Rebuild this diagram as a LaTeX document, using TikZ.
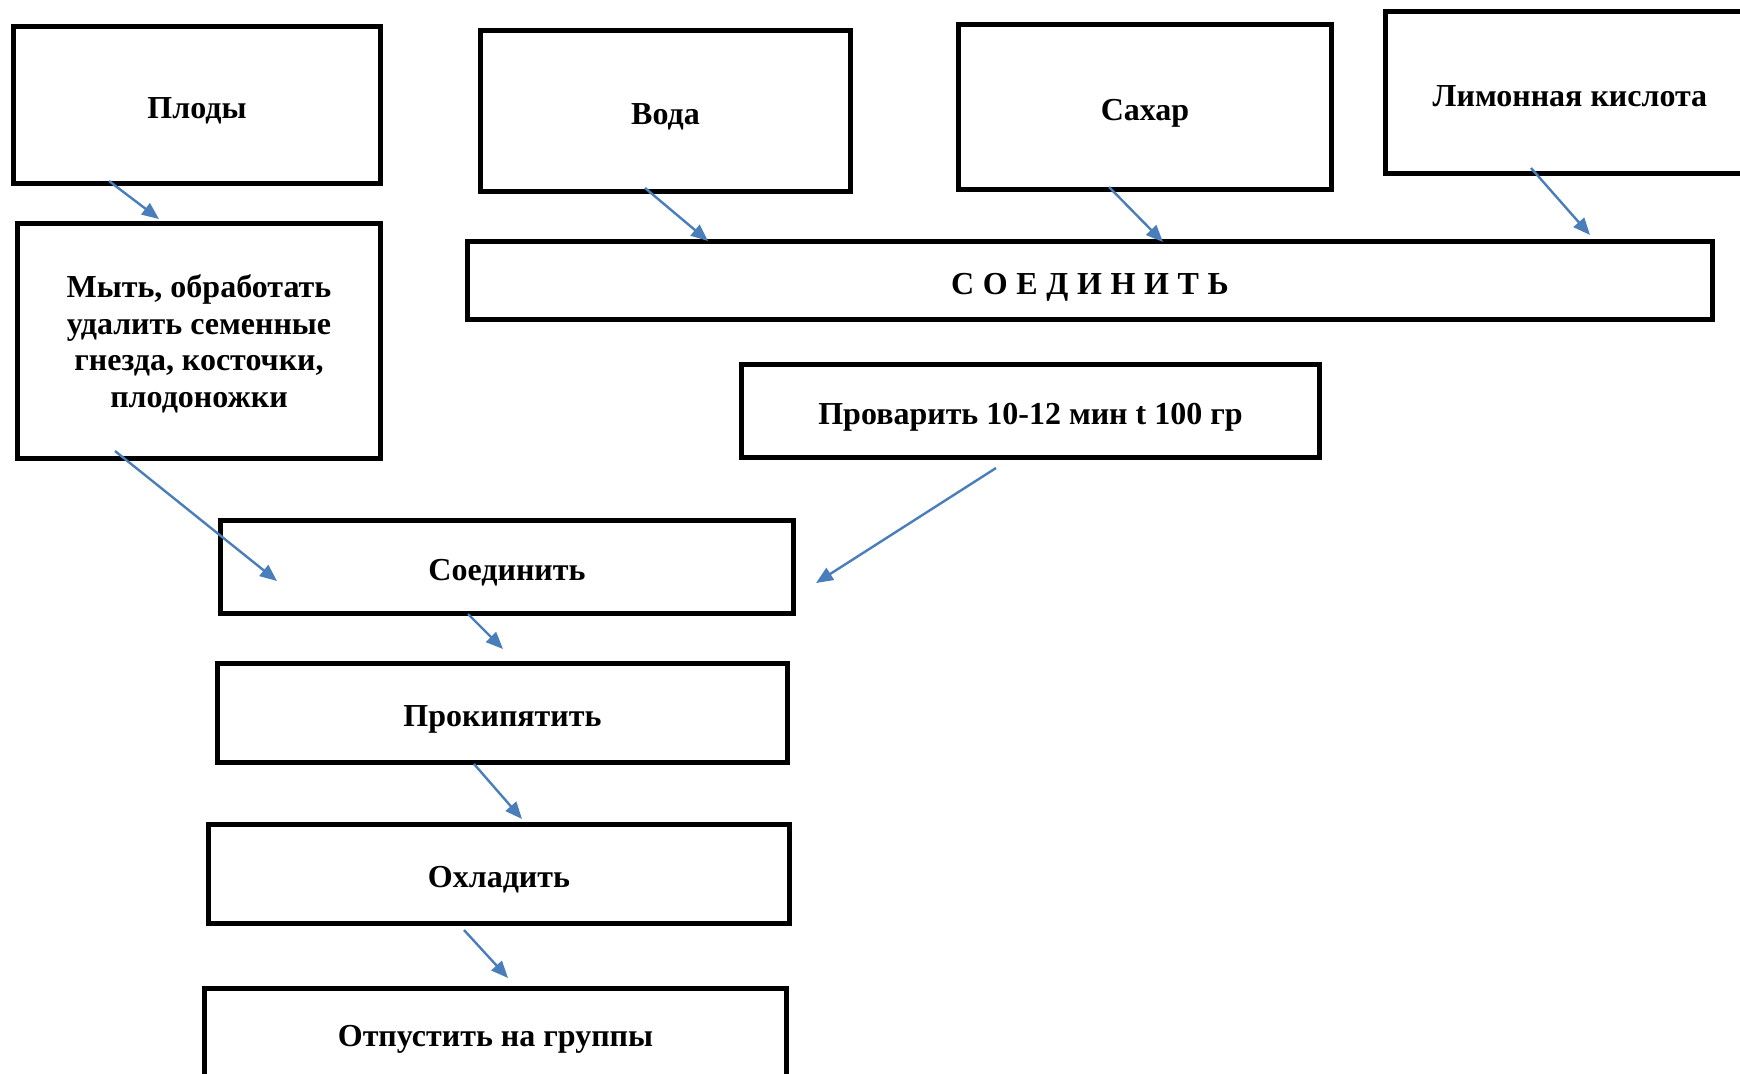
\documentclass[tikz,border=0pt]{standalone}
\usepackage{fontspec}
\setmainfont{Liberation Serif}
\usetikzlibrary{arrows.meta}
\definecolor{arrowblue}{HTML}{4A7EBB}
\begin{document}
\begin{tikzpicture}[x=0.5pt,y=-0.5pt,
  box/.style={draw=black,line width=2.5pt,fill=white,inner sep=0pt,align=center,
    font=\fontsize{16}{18.3}\selectfont\bfseries},
  oneline/.style={box,text height=13.6pt,text depth=0pt},
  flow/.style={draw=arrowblue,line width=1.2pt,-{Triangle[length=8.5pt,width=7pt]}}]
\useasboundingbox (0,0) rectangle (1740,1073);
\fill[white] (0,0) rectangle (1740,1073);
% boxes
\node[oneline,minimum width=183.5pt,minimum height=78.5pt] (plody) at (197,105) {Плоды};
\node[box,text depth=0pt,minimum width=181.5pt,minimum height=117.5pt] (myt) at (199,341)
  {Мыть, обработать\\удалить семенные\\гнезда, косточки,\\плодоножки};
\node[oneline,minimum width=185pt,minimum height=80.5pt] (voda) at (665.5,111) {Вода};
\node[oneline,minimum width=186.5pt,minimum height=82.5pt] (sahar) at (1145,107) {Сахар};
\node[oneline,minimum width=184.5pt,minimum height=81pt] (limon) at (1570,92.5) {Лимонная кислота};
\node[oneline,minimum width=622.5pt,minimum height=39pt] (soedA) at (1090,280.5)
  {С\hspace{0.27em}О\hspace{0.27em}Е\hspace{0.27em}Д\hspace{0.27em}И\hspace{0.27em}Н\hspace{0.27em}И\hspace{0.27em}Т\hspace{0.27em}Ь};
\node[oneline,minimum width=289pt,minimum height=46.5pt] (prov) at (1030.5,411) {Проварить 10-12 мин t 100 гр};
\node[oneline,minimum width=286.5pt,minimum height=46.5pt] (soedB) at (507,567) {Соединить};
\node[oneline,minimum width=285pt,minimum height=49.5pt] (prok) at (502.5,713) {Прокипятить};
\node[oneline,minimum width=290.5pt,minimum height=49.5pt] (ohl) at (499,874) {Охладить};
\node[oneline,minimum width=291pt,minimum height=44.5pt] (otp) at (495.5,1033) {Отпустить на группы};
% connector end points
\coordinate (p1) at (109,181);  \coordinate (q1) at (159,219);
\coordinate (p2) at (645,188);  \coordinate (q2) at (708,241);
\coordinate (p3) at (1109,187); \coordinate (q3) at (1163,242);
\coordinate (p4) at (1531,168); \coordinate (q4) at (1590,235);
\coordinate (p5) at (115,451);  \coordinate (q5) at (277,581);
\coordinate (p6) at (996,468);  \coordinate (q6) at (816,583);
\coordinate (p7) at (468,614);  \coordinate (q7) at (503,649);
\coordinate (p8) at (474,764);  \coordinate (q8) at (522,819);
\coordinate (p9) at (464,930);  \coordinate (q9) at (508,978);
\draw[flow] (p1) -- (q1);
\draw[flow] (p2) -- (q2);
\draw[flow] (p3) -- (q3);
\draw[flow] (p4) -- (q4);
\draw[flow] (p5) -- (q5);
\draw[flow] (p6) -- (q6);
\draw[flow] (p7) -- (q7);
\draw[flow] (p8) -- (q8);
\draw[flow] (p9) -- (q9);
\end{tikzpicture}
\end{document}
